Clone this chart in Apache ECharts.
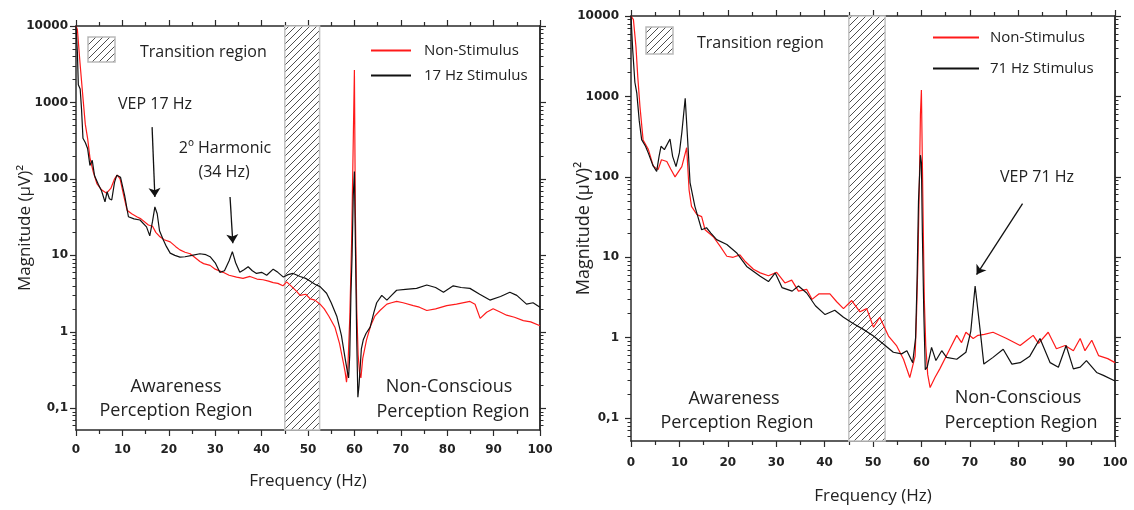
<!DOCTYPE html>
<html>
<head>
<meta charset="utf-8">
<script src="https://cdn.jsdelivr.net/npm/echarts@6/dist/echarts.min.js"></script>
<style>
  html, body { margin: 0; padding: 0; background: #fff; }
  #chart { width: 1134px; height: 510px; }
</style>
</head>
<body>
<div id="chart"></div>
<script>
// ---- data ----
const yTicks = [0.1, 1, 10, 100, 1000, 10000];
const transition = [45, 52.5];

// left panel, Non-Stimulus
const leftRedHz = [0, 0.3, 0.86, 1.6, 2.0, 2.5, 3.0, 3.7, 4.5, 5.5, 6.6, 7.5, 8.3, 8.9, 9.5, 10.3, 11, 12, 13.1, 14, 15.6, 16.5, 17.2, 18.1, 19, 20.3, 21.5, 22.4, 23.5, 24.6, 25.5, 26.7, 27.5, 28.9, 30, 31.7, 33, 34.6, 36, 37.5, 39, 40.3, 41.5, 42.5, 43.5, 44.6, 45.4, 46.5, 47.5, 48.3, 49.5, 50.5, 51.5, 52.6, 53.5, 54.5, 55.8, 56.8, 57.6, 58.0, 58.3, 58.6, 59.0, 59.4, 59.7, 60.0, 60.2, 60.5, 60.8, 61.1, 61.4, 61.8, 62.6, 63.5, 64.4, 65.5, 67, 68, 69.1, 70.5, 72.7, 74, 75.6, 77.5, 79.9, 82, 84.9, 86, 87.1, 88.5, 89.9, 91.5, 92.8, 94.5, 96.4, 98, 100];
const leftRedMag = [10000, 9000, 3300, 980, 520, 340, 190, 125, 87, 72, 65, 75, 100, 112, 100, 60, 39, 35, 32, 30, 25, 24, 20, 17.5, 16, 15, 13, 11.8, 11, 10.5, 9.5, 8.3, 7.8, 7.4, 6.6, 6.0, 5.5, 5.2, 5.0, 5.3, 4.9, 4.8, 4.6, 4.4, 4.3, 4.0, 4.5, 3.9, 3.4, 3.0, 3.1, 2.7, 2.6, 2.3, 2.0, 1.6, 1.15, 0.7, 0.4, 0.3, 0.22, 0.35, 1.5, 15, 200, 2650, 40, 2, 0.5, 0.3, 0.25, 0.45, 0.78, 1.2, 1.6, 1.9, 2.3, 2.4, 2.5, 2.4, 2.2, 2.1, 1.9, 2.0, 2.2, 2.3, 2.5, 2.3, 1.5, 1.8, 2.0, 1.8, 1.65, 1.55, 1.4, 1.35, 1.2];

// left panel, 17 Hz Stimulus
const leftBlackHz = [0, 0.3, 0.5, 0.9, 1.2, 1.5, 2.0, 2.5, 3.0, 3.5, 4.0, 4.8, 5.5, 6.25, 6.7, 7.2, 7.7, 8.3, 8.8, 9.6, 10.5, 11.3, 12.5, 13.8, 15.2, 15.9, 16.5, 17.0, 17.5, 18.0, 18.8, 19.5, 20.3, 21.3, 22.4, 23.5, 25, 26.7, 28, 28.9, 30, 31, 32, 33, 33.7, 34.4, 35.3, 36.2, 37.1, 38, 38.9, 40, 41.1, 42.5, 43.5, 44.7, 45.7, 46.8, 48.3, 49.5, 50.5, 51.5, 52.6, 54, 55, 56.2, 57.2, 58.0, 58.5, 58.75, 59.0, 59.25, 59.5, 59.75, 60.0, 60.25, 60.5, 60.75, 61.0, 61.5, 61.9, 62.5, 63.4, 64.2, 64.8, 65.9, 67, 68, 69.1, 71, 73.4, 75.6, 77.5, 79.2, 81.3, 83, 84.9, 87, 89.2, 91.5, 93.5, 95, 97.1, 98.5, 100];
const leftBlackMag = [10000, 4500, 1700, 1500, 800, 340, 300, 250, 150, 175, 110, 85, 70, 50, 68, 55, 53, 90, 112, 105, 60, 32, 30, 29, 23.6, 18, 28, 43, 35, 21, 16, 13, 10.7, 10, 9.5, 9.6, 10, 10.5, 10.2, 9.6, 8, 6.0, 6.3, 8.5, 11.2, 8, 6, 6.5, 7.1, 6.3, 5.8, 6.0, 5.5, 6.6, 6.0, 5.2, 5.6, 5.8, 5.3, 5.0, 4.6, 4.2, 3.9, 3.2, 2.4, 1.6, 0.9, 0.45, 0.3, 0.25, 0.5, 3, 10, 60, 125, 10, 0.8, 0.14, 0.2, 0.6, 0.78, 0.95, 1.15, 1.8, 2.4, 3.0, 2.6, 3.0, 3.5, 3.6, 3.7, 4.1, 3.8, 3.3, 4.0, 3.8, 3.7, 3.1, 2.6, 2.9, 3.3, 3.0, 2.3, 2.4, 2.1];

// right panel, Non-Stimulus
const rightRedHz = [0, 0.5, 1.03, 1.4, 1.86, 2.5, 3.6, 4.6, 5.6, 6.3, 7.4, 8.2, 9.1, 10.5, 11.5, 12.0, 12.5, 13.6, 14.6, 15.3, 17, 18.4, 19.8, 21.1, 22.5, 23.5, 25.3, 26.7, 28.4, 30.1, 31.8, 33.2, 34.6, 36.3, 37.4, 38.8, 41.1, 42.5, 43.9, 45.6, 47.3, 48.7, 50.1, 51.4, 53.2, 54.9, 56.3, 57.6, 58.7, 59.0, 59.3, 59.6, 59.8, 60.0, 60.2, 60.4, 60.6, 60.9, 61.3, 61.8, 62.8, 63.8, 65.9, 67.3, 68.3, 69.2, 70.7, 71.7, 73, 74.8, 77.6, 80.4, 81.8, 83.1, 84.2, 86.2, 87.9, 89.7, 91.4, 92.8, 93.8, 95.2, 96.6, 98.5, 100];
const rightRedMag = [10000, 9000, 4100, 1750, 740, 288, 218, 136, 123, 163, 155, 125, 100, 134, 230, 69, 43, 34, 32, 22, 18, 13.8, 10.3, 10, 10.7, 9, 7.1, 6.4, 5.9, 6.5, 4.8, 5.2, 3.8, 4.0, 3.0, 3.5, 3.5, 2.8, 2.3, 2.9, 2.1, 2.3, 1.35, 1.8, 1.05, 0.79, 0.54, 0.32, 0.59, 2, 10, 100, 600, 1200, 150, 20, 3, 0.8, 0.35, 0.24, 0.32, 0.41, 0.73, 1.07, 0.87, 1.17, 0.98, 1.07, 1.1, 1.17, 0.98, 0.8, 0.93, 1.07, 0.85, 1.17, 0.73, 0.8, 0.69, 0.98, 0.69, 0.93, 0.6, 0.55, 0.49];

// right panel, 71 Hz Stimulus
const rightBlackHz = [0, 0.35, 0.8, 1.2, 1.7, 2.2, 3.0, 3.6, 4.5, 5.3, 5.8, 6.2, 6.9, 8.06, 8.6, 9.3, 10.0, 10.5, 11.2, 11.7, 12.2, 13.2, 14.6, 15.6, 16.5, 17.7, 19.8, 21.8, 23.9, 26.7, 28.4, 29.8, 31.2, 33.3, 34.6, 36.3, 38.1, 40.1, 42.1, 43.9, 45.9, 48, 50.1, 52.2, 54.2, 55.9, 57, 58.2, 58.5, 58.8, 59.1, 59.4, 59.6, 59.8, 60.0, 60.2, 60.5, 60.8, 61.2, 62.1, 63, 64.2, 65.2, 67.3, 69.2, 70.2, 71.1, 72.1, 72.9, 74.8, 76.9, 78.7, 80.4, 82.4, 84.5, 86.6, 88.3, 89.9, 91.4, 92.8, 94.1, 96.2, 97.6, 100];
const rightBlackMag = [10000, 3800, 1500, 1100, 500, 290, 240, 196, 140, 117, 180, 240, 218, 295, 180, 134, 200, 355, 950, 290, 85, 43, 22, 23.3, 20, 16.6, 14.4, 11.4, 7.7, 5.8, 5.0, 6.4, 4.2, 3.8, 4.4, 3.6, 2.5, 1.94, 2.2, 1.8, 1.5, 1.27, 1.05, 0.83, 0.66, 0.63, 0.69, 0.49, 0.49, 1, 5, 50, 50, 186, 150, 20, 2, 0.4, 0.43, 0.76, 0.52, 0.69, 0.57, 0.54, 0.66, 1.2, 4.4, 1.3, 0.47, 0.57, 0.72, 0.47, 0.49, 0.59, 0.98, 0.49, 0.43, 0.8, 0.41, 0.43, 0.52, 0.37, 0.34, 0.29];

// ---- helpers ----
const Y_MIN = 0.052;
const Y_MAX = 10000;
const pairs = (hz, mag) => hz.map((f, i) => [f, mag[i]]);

// tick positions for the decade / sub-decade marks, in log10 space
const majorLog = yTicks.map((v) => Math.log10(v));
const minorLog = [];
[0.01, 0.1, 1, 10, 100, 1000].forEach((d) => {
  for (let k = 2; k <= 9; k++) {
    const v = d * k;
    if (v > Y_MIN && v < Y_MAX) minorLog.push(Math.log10(v));
  }
});

function hatchCanvas() {
  const n = 7;
  const c = document.createElement('canvas');
  c.width = n;
  c.height = n;
  const g = c.getContext('2d');
  g.fillStyle = '#fff';
  g.fillRect(0, 0, n, n);
  g.strokeStyle = '#3a3a3a';
  g.lineWidth = 0.9;
  g.beginPath();
  g.moveTo(0, n); g.lineTo(n, 0);
  g.moveTo(-1, 1); g.lineTo(1, -1);
  g.moveTo(n - 1, n + 1); g.lineTo(n + 1, n - 1);
  g.stroke();
  return c;
}
const hatch = { image: hatchCanvas(), repeat: 'repeat' };

const AX = '#2a2a2a';
const TXT = '#222';
const FONT = '"Open Sans", sans-serif';
const TICKFONT = '"DejaVu Sans", sans-serif';

const xAxisPair = (gridIndex, margin, nameGap) => [
  {
    gridIndex, type: 'value', min: 0, max: 100, interval: 10,
    name: 'Frequency (Hz)', nameLocation: 'middle', nameGap, nameMoveOverlap: false,
    nameTextStyle: { fontFamily: FONT, fontSize: 17, color: TXT },
    axisLine: { onZero: false, lineStyle: { color: AX, width: 1.5 } },
    axisTick: { inside: false, length: 6, lineStyle: { color: AX, width: 1.2 } },
    minorTick: { show: true, splitNumber: 2, length: 4, lineStyle: { color: AX, width: 1.2 } },
    axisLabel: { margin, fontFamily: TICKFONT, fontWeight: 'bold', fontSize: 12, color: TXT },
    splitLine: { show: false },
  },
  {
    gridIndex, type: 'value', position: 'top', min: 0, max: 100, interval: 10,
    axisLine: { onZero: false, lineStyle: { color: AX, width: 1.5 } },
    axisTick: { inside: false, length: 6, lineStyle: { color: AX, width: 1.2 } },
    minorTick: { show: true, splitNumber: 2, length: 4, lineStyle: { color: AX, width: 1.2 } },
    axisLabel: { show: false },
    splitLine: { show: false },
  },
];

// one log axis carrying the data and the labels, plus four tick-only axes
const yAxisSet = (gridIndex, nameGap, labelMargin, nameSize) => {
  const tickAxis = (position, values, length, width) => ({
    gridIndex, type: 'value', position,
    min: Math.log10(Y_MIN), max: Math.log10(Y_MAX),
    splitLine: { show: false },
    axisLine: { show: position === 'right', lineStyle: { color: AX, width: 1.5 } },
    axisTick: { length, customValues: values, lineStyle: { color: AX, width } },
    axisLabel: { show: false },
  });
  return [
    {
      gridIndex, type: 'log', min: Y_MIN, max: Y_MAX, position: 'left',
      name: 'Magnitude (μV)²', nameLocation: 'middle', nameGap, nameRotate: 90,
      nameMoveOverlap: false,
      nameTextStyle: { fontFamily: FONT, fontSize: nameSize, color: TXT },
      splitLine: { show: false },
      axisLine: { show: true, lineStyle: { color: AX, width: 1.5 } },
      axisTick: { show: false },
      axisLabel: {
        margin: labelMargin, customValues: yTicks,
        fontFamily: TICKFONT, fontWeight: 'bold', fontSize: 12, color: TXT,
        formatter: (v) => (v < 1 ? String(v).replace('.', ',') : String(Math.round(v))),
      },
    },
    tickAxis('left', majorLog, 6, 1.2),
    tickAxis('left', minorLog, 3.5, 1),
    tickAxis('right', majorLog, 6, 1.2),
    tickAxis('right', minorLog, 3.5, 1),
  ];
};

const transitionArea = {
  silent: true,
  itemStyle: { color: hatch, borderColor: '#c4c4c4', borderWidth: 1.5 },
  data: [[{ xAxis: transition[0] }, { xAxis: transition[1] }]],
};

const arrow = (from, to) => [{ coord: from }, { coord: to }];
const arrowStyle = {
  silent: true,
  symbol: ['none', 'arrow'],
  symbolSize: 9,
  label: { show: false },
  lineStyle: { color: '#111', width: 1.3, type: 'solid' },
};

const lineSeries = (name, data, color, xi, yi, extra) => Object.assign({
  name, type: 'line', data, xAxisIndex: xi, yAxisIndex: yi,
  showSymbol: false, symbol: 'none', smooth: false,
  lineStyle: { color, width: 1.2 }, itemStyle: { color },
}, extra || {});

const text = (x, y, s, size, align) => ({
  type: 'text', x, y,
  style: {
    text: s, fill: TXT, font: `${size}px ${FONT}`,
    align: align || 'center', verticalAlign: 'middle',
  },
});

const chart = echarts.init(document.getElementById('chart'), null, { renderer: 'canvas' });
chart.setOption({
  animation: false,
  backgroundColor: '#fff',
  grid: [
    { left: 76, top: 26, width: 464, height: 404 },
    { left: 631, top: 16, width: 484, height: 426 },
  ],
  xAxis: [...xAxisPair(0, 14, 43), ...xAxisPair(1, 16, 47)],
  yAxis: [...yAxisSet(0, 42, 8, 17), ...yAxisSet(1, 38, 12, 18)],
  legend: [
    {
      data: ['Non-Stimulus', '17 Hz Stimulus'],
      orient: 'vertical', left: 366, top: 38, itemWidth: 40, itemHeight: 2, itemGap: 10,
      icon: 'rect',
      textStyle: { fontFamily: FONT, fontSize: 15, color: TXT, padding: [0, 0, 0, 8] },
    },
    {
      data: ['Non-Stimulus', '71 Hz Stimulus'],
      orient: 'vertical', left: 928, top: 25, itemWidth: 46, itemHeight: 2, itemGap: 16,
      icon: 'rect',
      textStyle: { fontFamily: FONT, fontSize: 15, color: TXT, padding: [0, 0, 0, 6] },
    },
  ],
  series: [
    lineSeries('Non-Stimulus', pairs(leftRedHz, leftRedMag), '#ff1a1a', 0, 0, { markArea: transitionArea }),
    lineSeries('17 Hz Stimulus', pairs(leftBlackHz, leftBlackMag), '#111', 0, 0, {
      markLine: Object.assign({}, arrowStyle, {
        data: [arrow([16.4, 476], [17, 58]), arrow([33.2, 58], [33.8, 14.4])],
      }),
    }),
    lineSeries('Non-Stimulus', pairs(rightRedHz, rightRedMag), '#ff1a1a', 2, 5, { markArea: transitionArea }),
    lineSeries('71 Hz Stimulus', pairs(rightBlackHz, rightBlackMag), '#111', 2, 5, {
      markLine: Object.assign({}, arrowStyle, {
        data: [arrow([80.9, 46.4], [71.4, 6.1])],
      }),
    }),
  ],
  graphic: [
    { type: 'rect', shape: { x: 88, y: 37, width: 27, height: 25 }, style: { fill: hatch, stroke: '#bbb', lineWidth: 1.5 } },
    text(140, 52, 'Transition region', 16, 'left'),
    text(155, 104, 'VEP 17 Hz', 16),
    text(225, 148, '2º Harmonic', 16),
    text(224, 172, '(34 Hz)', 16),
    text(176, 387, 'Awareness', 18),
    text(176, 411, 'Perception Region', 18),
    text(449, 387, 'Non-Conscious', 18),
    text(453, 412, 'Perception Region', 18),

    { type: 'rect', shape: { x: 646, y: 27, width: 27, height: 27 }, style: { fill: hatch, stroke: '#bbb', lineWidth: 1.5 } },
    text(697, 43, 'Transition region', 16, 'left'),
    text(1037, 177, 'VEP 71 Hz', 16),
    text(734, 399, 'Awareness', 18),
    text(737, 423, 'Perception Region', 18),
    text(1018, 398, 'Non-Conscious', 18),
    text(1021, 423, 'Perception Region', 18),
  ],
});
</script>
</body>
</html>
